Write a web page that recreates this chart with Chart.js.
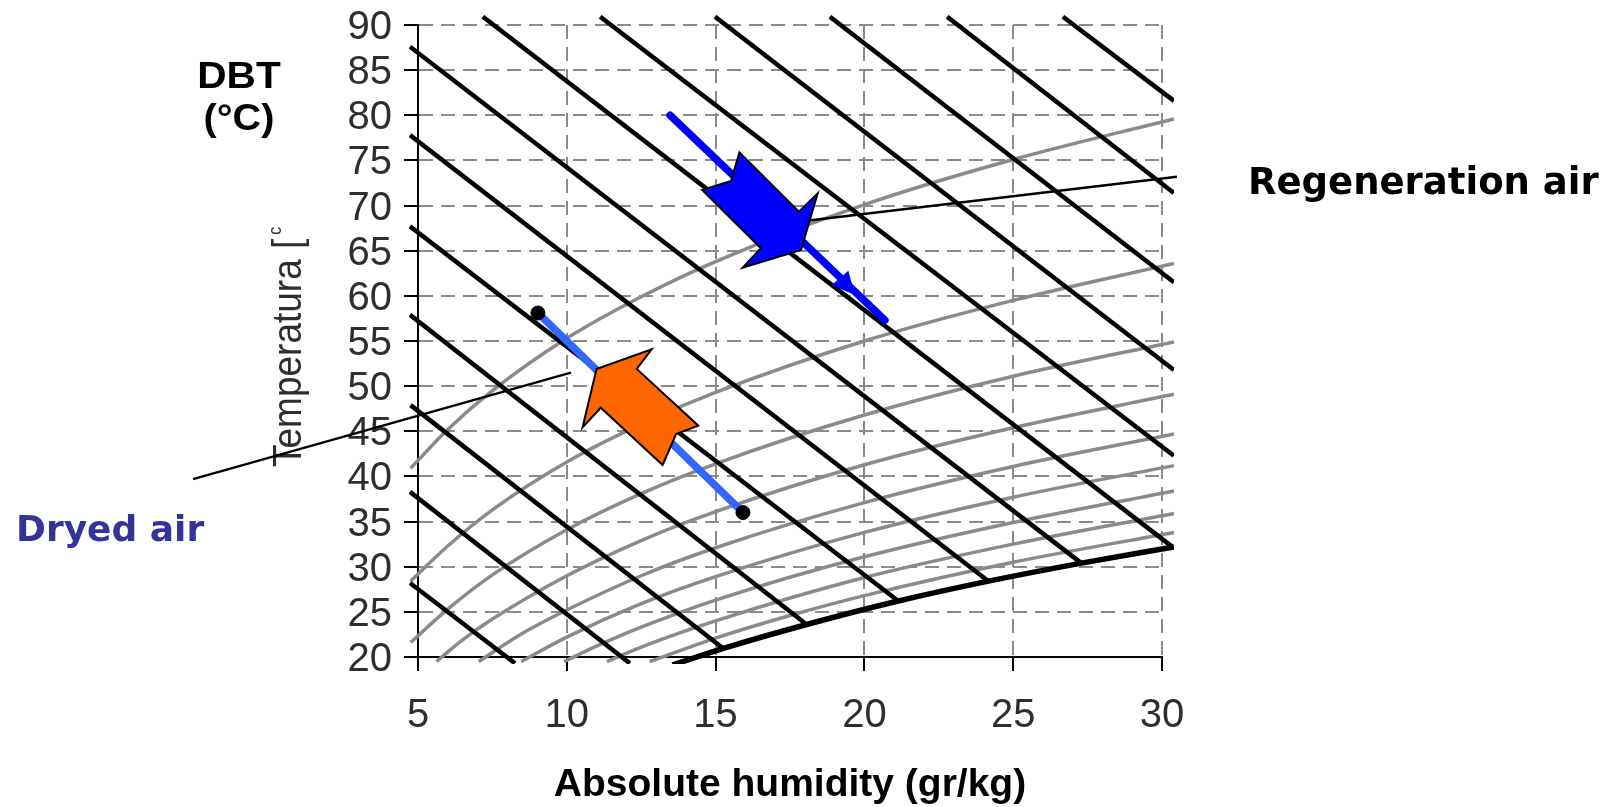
<!DOCTYPE html>
<html>
<head>
<meta charset="utf-8">
<title>Desiccant wheel on the psychrometric chart</title>
<script src="https://cdn.jsdelivr.net/npm/chart.js@4.4.1/dist/chart.umd.min.js"></script>
<style>
  html, body { margin: 0; padding: 0; background: #fff; }
  #wrap { width: 1608px; height: 807px; position: relative; }
</style>
</head>
<body>
<div id="wrap"><canvas id="myChart"></canvas></div>
<script>
'use strict';

// axis ticks
let xTicks = [5, 10, 15, 20, 25, 30];
let yTicks = [20, 25, 30, 35, 40, 45, 50, 55, 60, 65, 70, 75, 80, 85, 90];

// relative humidity curves (10% .. 90%), [absolute humidity g/kg, temperature C]
let rh10 = [[4.75, 40.9], [6, 45.2], [7.5, 49.5], [10, 55.3], [12.5, 59.9], [15, 63.8], [20, 70.1], [25, 75.1], [30.4, 79.6]];
let rh20 = [[4.75, 28.4], [6, 32.3], [7.5, 36.3], [10, 41.6], [12.5, 45.8], [15, 49.3], [20, 55.0], [25, 59.5], [30.4, 63.6]];
let rh30 = [[4.75, 21.6], [6, 25.3], [7.5, 29.1], [10, 34.1], [12.5, 38.1], [15, 41.4], [20, 46.8], [25, 51.1], [30.4, 54.9]];
let rh40 = [[5.62, 19.5], [6.5, 21.9], [7.5, 24.2], [10, 29.0], [12.5, 32.9], [15, 36.1], [20, 41.3], [25, 45.4], [30.4, 49.1]];
let rh50 = [[7.04, 19.5], [8.5, 22.6], [10, 25.2], [12.5, 29.0], [15, 32.1], [20, 37.1], [25, 41.1], [30.4, 44.7]];
let rh60 = [[8.47, 19.5], [10, 22.2], [12.5, 25.9], [15, 28.9], [20, 33.8], [25, 37.7], [30.4, 41.2]];
let rh70 = [[9.91, 19.5], [11, 21.2], [12.5, 23.3], [15, 26.3], [20, 31.1], [25, 34.9], [30.4, 38.4]];
let rh80 = [[11.35, 19.5], [12.5, 21.1], [15, 24.0], [20, 28.8], [25, 32.5], [30.4, 35.9]];
let rh90 = [[12.79, 19.5], [15, 22.1], [17.5, 24.6], [20, 26.8], [25, 30.5], [30.4, 33.8]];

// saturation curve (thick black)
let saturation = [[13.55, 19.1], [15.26, 20.95], [18.06, 23.6], [21.14, 26.2], [24.17, 28.4], [27.29, 30.4], [30.4, 32.2]];

// constant enthalpy lines, start and end of each
let enthalpyStart = [[4.73, 28.2], [4.73, 38.3], [4.75, 47.9], [4.73, 57.9], [4.73, 67.7], [4.73, 77.8], [4.73, 87.6],
  [7.18, 90.92], [11.12, 90.92], [14.98, 90.92], [18.84, 90.92], [22.78, 90.92], [26.67, 90.92]];
let enthalpyEnd = [[8.26, 19.3], [12.12, 19.3], [15.26, 20.95], [18.06, 23.6], [21.14, 26.2], [24.17, 28.4], [27.29, 30.4],
  [30.35, 32.2], [30.4, 42.3], [30.4, 51.8], [30.4, 61.5], [30.4, 71.4], [30.4, 81.6]];

// process lines
let regenLine = [[13.47, 80.0], [20.69, 57.3]];
let dryLine = [[9.03, 58.1], [15.92, 36.0]];
let regenLeader = [[30.5, 73.2], [18.0, 68.3]];
let dryLeader = [[-2.56, 39.7], [10.14, 51.5]];

// block arrows, corners in data units
let blueArrow = [[17.87, 65.08], [18.43, 71.36], [17.80, 69.32], [15.80, 75.90], [15.52, 72.72], [14.55, 71.72], [16.52, 65.27], [15.91, 63.12]];
let orangeArrow = [[11.00, 51.90], [12.85, 54.08], [12.35, 51.90], [14.42, 45.62], [13.67, 44.70], [13.22, 41.27], [11.14, 47.61], [10.53, 45.44]];
let smallHead = [[18.90, 61.20], [19.46, 62.79], [19.68, 60.10]];

let sansFamily = "'Liberation Sans', Arial, sans-serif";
let wideFamily = "'DejaVu Sans', Verdana, sans-serif";
let gridGray = '#8a8a8a';
let edgeClip = { left: 9, top: 10, right: 12, bottom: 7 };

function pts(arr) {
  return arr.map(p => ({ x: p[0], y: p[1] }));
}

let datasets = [];

let rhCurves = [rh10, rh20, rh30, rh40, rh50, rh60, rh70, rh80, rh90];
for (let i = 0; i < rhCurves.length; i++) {
  datasets.push({
    data: pts(rhCurves[i]),
    showLine: true,
    borderColor: gridGray,
    borderWidth: 3.5,
    pointRadius: 0,
    cubicInterpolationMode: 'monotone',
    clip: edgeClip,
    order: 50
  });
}

for (let i = 0; i < enthalpyStart.length; i++) {
  datasets.push({
    data: pts([enthalpyStart[i], enthalpyEnd[i]]),
    showLine: true,
    borderColor: '#000',
    borderWidth: 4.5,
    pointRadius: 0,
    clip: edgeClip,
    order: 40
  });
}

datasets.push({
  data: pts(saturation),
  showLine: true,
  borderColor: '#000',
  borderWidth: 5.5,
  pointRadius: 0,
  cubicInterpolationMode: 'monotone',
  clip: edgeClip,
  order: 30
});

// leader lines from the labels
datasets.push({ data: pts(regenLeader), showLine: true, borderColor: '#000', borderWidth: 2.5, pointRadius: 0, clip: false, order: 20 });
datasets.push({ data: pts(dryLeader), showLine: true, borderColor: '#000', borderWidth: 2.5, pointRadius: 0, clip: false, order: 20 });

datasets.push({ data: pts(regenLine), showLine: true, borderColor: '#0000ff', borderWidth: 7.5, pointRadius: 0, borderCapStyle: 'round', order: 10 });
datasets.push({ data: pts(dryLine), showLine: true, borderColor: '#3366ff', borderWidth: 7.5, pointRadius: 0, order: 10 });
datasets.push({ data: pts(dryLine), showLine: false, pointRadius: 7, pointBackgroundColor: '#000', pointBorderColor: '#000', order: 5 });

function drawShape(chart, corners, fill, stroke) {
  let c = chart.ctx;
  let sx = chart.scales.x;
  let sy = chart.scales.y;
  c.save();
  c.beginPath();
  corners.forEach((p, i) => {
    let px = sx.getPixelForValue(p[0]);
    let py = sy.getPixelForValue(p[1]);
    if (i === 0) c.moveTo(px, py); else c.lineTo(px, py);
  });
  c.closePath();
  c.fillStyle = fill;
  c.fill();
  if (stroke) {
    c.lineWidth = 2;
    c.lineJoin = 'miter';
    c.strokeStyle = stroke;
    c.stroke();
  }
  c.restore();
}

// wide bold text, the source slide is stretched sideways a little
function stretchedText(c, text, x, y, stretch) {
  c.save();
  c.translate(x, y);
  c.scale(stretch, 1);
  c.fillText(text, 0, 0);
  c.restore();
}

let annotations = {
  id: 'annotations',
  beforeDatasetsDraw(chart) {
    let c = chart.ctx;
    c.save();
    c.fillStyle = '#000';
    c.textAlign = 'center';
    c.textBaseline = 'alphabetic';
    c.font = 'bold 36px ' + sansFamily;
    stretchedText(c, 'DBT', 239, 88, 1.13);
    stretchedText(c, '(°C)', 239, 130, 1.1);

    c.textAlign = 'left';
    c.font = 'bold 37px ' + wideFamily;
    c.fillText('Regeneration air', 1248, 194);

    c.fillStyle = '#333399';
    c.font = 'bold 36px ' + wideFamily;
    c.fillText('Dryed air', 16, 541);

    // rotated temperature label
    c.translate(301, 467);
    c.rotate(-Math.PI / 2);
    c.scale(1, 1.12);
    c.fillStyle = '#2e2e2e';
    c.font = '37px ' + sansFamily;
    c.fillText('Temperatura [', 0, 0);
    let w = c.measureText('Temperatura [').width;
    c.font = '16px ' + sansFamily;
    c.fillText('c', w + 4, -18);
    c.restore();
  },
  afterDatasetsDraw(chart) {
    drawShape(chart, smallHead, '#0000ff', null);
    drawShape(chart, blueArrow, '#0000ff', '#000');
    drawShape(chart, orangeArrow, '#ff6600', '#000');
  }
};

let ctx = document.getElementById('myChart').getContext('2d');

let myChart = new Chart(ctx, {
  type: 'scatter',
  data: { datasets: datasets },
  plugins: [annotations],
  options: {
    responsive: true,
    maintainAspectRatio: false,
    animation: false,
    events: [],
    layout: { padding: { left: 318, right: 446, top: 25, bottom: 0 } },
    plugins: {
      legend: { display: false },
      tooltip: { enabled: false }
    },
    scales: {
      x: {
        type: 'linear',
        min: 5,
        max: 30,
        afterBuildTicks: s => { s.ticks = xTicks.map(v => ({ value: v })); },
        afterFit: s => { s.height = 150; s.paddingLeft = 0; s.paddingRight = 0; },
        grid: { color: gridGray, lineWidth: 2, tickColor: '#000', tickLength: 14, tickWidth: 2, tickBorderDash: [] },
        border: { display: true, color: '#000', width: 2, dash: [14, 8] },
        ticks: { color: '#2e2e2e', font: { family: sansFamily, size: 40 }, padding: 21, autoSkip: false, maxRotation: 0 },
        title: {
          display: true,
          text: 'Absolute humidity (gr/kg)',
          color: '#000',
          font: { family: sansFamily, size: 39, weight: 'bold', lineHeight: 1 },
          padding: { top: 0, bottom: 2 }
        }
      },
      y: {
        type: 'linear',
        min: 20,
        max: 90,
        afterBuildTicks: s => { s.ticks = yTicks.map(v => ({ value: v })); },
        afterFit: s => { s.width = 100; s.paddingTop = 0; s.paddingBottom = 0; },
        grid: { color: gridGray, lineWidth: 2, tickColor: '#000', tickLength: 14, tickWidth: 2, tickBorderDash: [] },
        border: { display: true, color: '#000', width: 2, dash: [14, 8] },
        ticks: { color: '#2e2e2e', font: { family: sansFamily, size: 40 }, padding: 12, autoSkip: false, labelOffset: 3 }
      }
    }
  }
});
</script>
</body>
</html>
